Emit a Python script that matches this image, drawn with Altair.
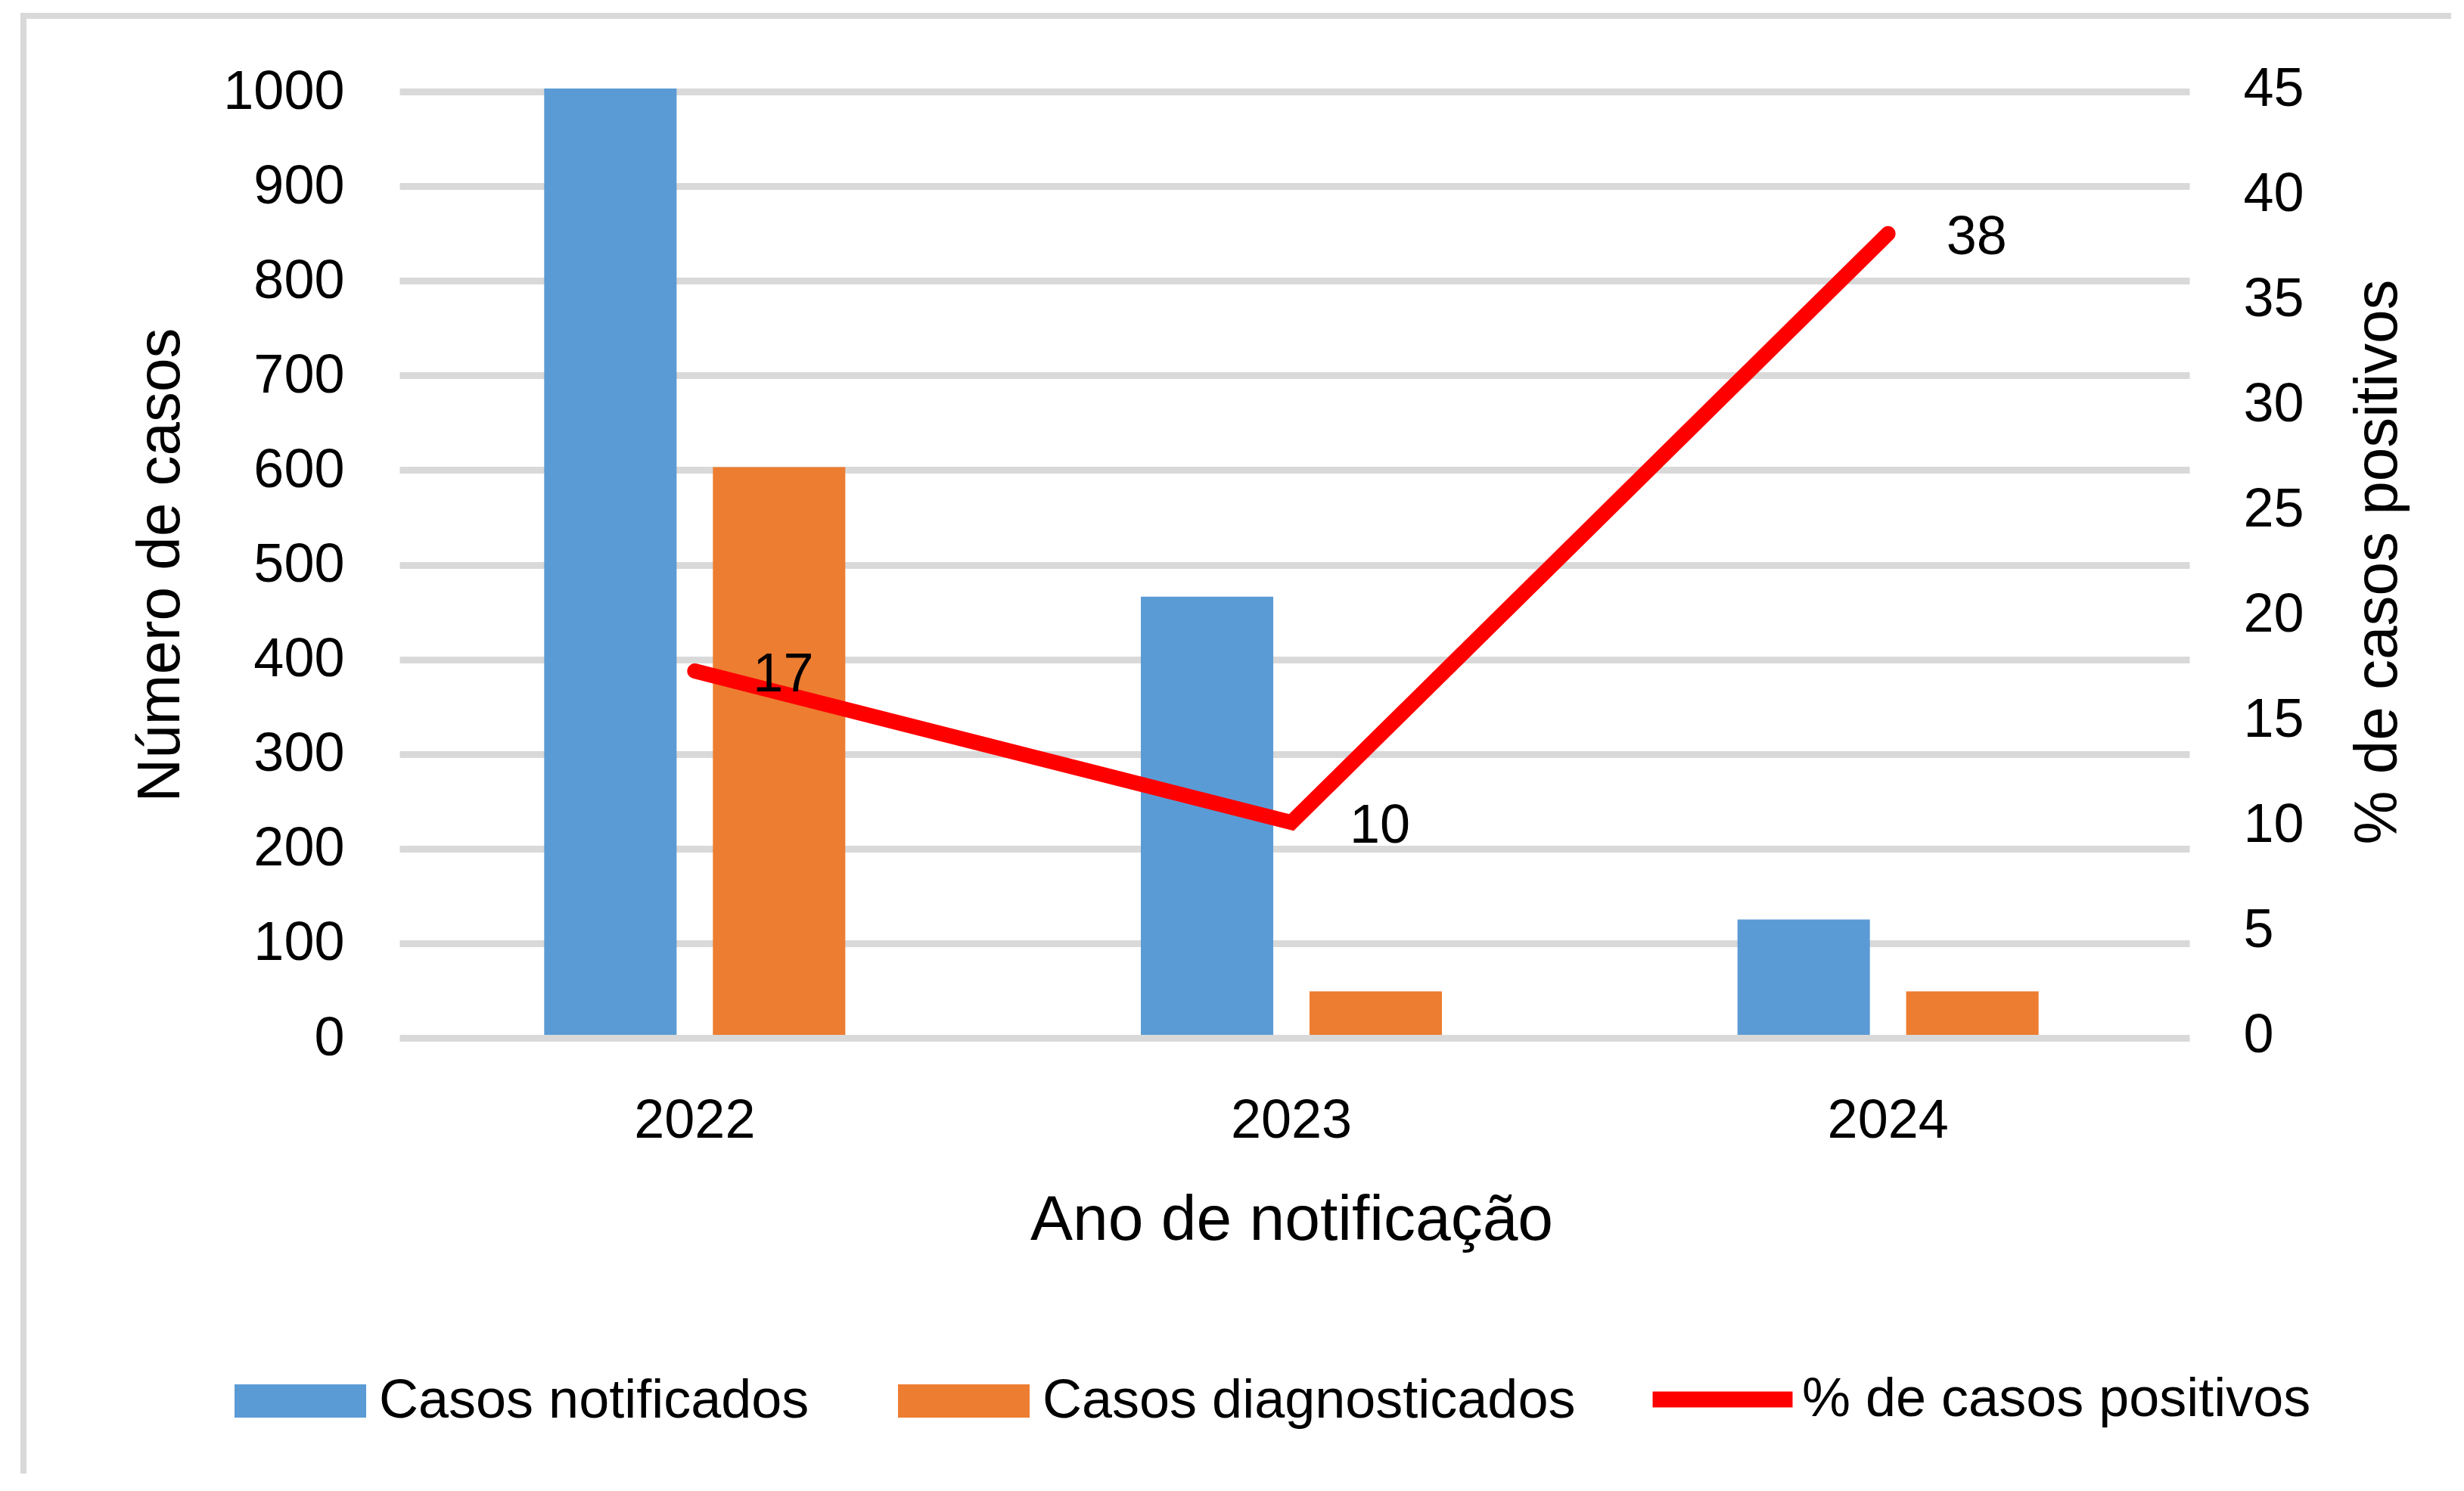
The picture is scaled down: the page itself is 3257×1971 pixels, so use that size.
import altair as alt
import pandas as pd

# ---- data ----
anos = ["2022", "2023", "2024"]
series_barras = ["Casos notificados", "Casos diagnosticados"]
casos_notificados = [1000, 463, 122]
casos_diagnosticados = [600, 46, 46]
serie_linha = "% de casos positivos"
pct_positivos = [17.3, 10.1, 38.1]
rotulos_pct = ["17", "10", "38"]
ticks_casos = list(range(0, 1001, 100))
ticks_pct = list(range(0, 46, 5))

cores_barras = ["#5B9BD5", "#ED7D31"]
cor_linha = "#FF0000"
FONT = "Liberation Sans"

bars_df = pd.DataFrame({
    "ano": anos * 2,
    "serie": [series_barras[0]] * 3 + [series_barras[1]] * 3,
    "valor": casos_notificados + casos_diagnosticados,
})
line_df = pd.DataFrame({
    "ano": anos,
    "pct": pct_positivos,
    "rotulo": rotulos_pct,
    "serie": [serie_linha] * 3,
})
frame_df = pd.DataFrame({"k": [0]})

W, H = 2366, 1251

x_enc = alt.X(
    "ano:N", sort=anos,
    scale=alt.Scale(paddingInner=0, paddingOuter=0),
    axis=alt.Axis(
        title="Ano de notificação", labelAngle=0, labelFont=FONT, labelFontSize=72,
        labelColor="#000000", labelPadding=78, ticks=False, tickSize=0, domain=False,
        grid=False, titleFont=FONT, titleFontSize=84, titleFontWeight="normal",
        titleColor="#000000", titleX=W / 2, titleY=270, titleAlign="center",
        titleBaseline="alphabetic", labelLimit=1000,
    ),
)

frame = alt.Chart(frame_df).mark_rect(
    fill="transparent", stroke="#D9D9D9", strokeWidth=8
).encode(
    x=alt.value(-493), x2=alt.value(3000), y=alt.value(-96), y2=alt.value(1900)
)

bars = alt.Chart(bars_df).mark_bar().encode(
    x=x_enc,
    xOffset=alt.XOffset(
        "serie:N", sort=series_barras,
        scale=alt.Scale(paddingInner=0.215, paddingOuter=0.876),
    ),
    y=alt.Y(
        "valor:Q",
        scale=alt.Scale(domain=[0, 1000], nice=False),
        axis=alt.Axis(
            orient="left", values=ticks_casos, format="d", title="Número de casos",
            labelFont=FONT, labelFontSize=72, labelColor="#000000", labelPadding=73,
            labelLimit=1000,
            ticks=False, tickSize=0, domain=False, grid=True, gridColor="#D9D9D9",
            gridWidth=9, translate=4.5,
            titleFont=FONT, titleFontSize=80, titleFontWeight="normal",
            titleColor="#000000", titleAngle=270, titleX=-292, titleY=H / 2,
            titleAlign="center", titleBaseline="alphabetic",
        ),
    ),
    color=alt.Color(
        "serie:N", sort=series_barras,
        scale=alt.Scale(domain=series_barras, range=cores_barras),
        legend=alt.Legend(
            title=None, orient="none", legendX=-214, legendY=1648,
            direction="horizontal",
            symbolType="M-1,-0.253L1,-0.253L1,0.253L-1,0.253Z",
            symbolSize=30276, symbolStrokeWidth=0, symbolOpacity=1,
            labelFont=FONT, labelFontSize=72, labelColor="#000000",
            labelOffset=17, labelLimit=3000, columnPadding=117, padding=0,
        ),
    ),
)

line = alt.Chart(line_df).mark_line(
    color=cor_linha, strokeWidth=20, strokeCap="round", strokeJoin="miter"
).encode(
    x=x_enc,
    y=alt.Y(
        "pct:Q",
        scale=alt.Scale(domain=[0, 45], nice=False),
        axis=alt.Axis(
            orient="right", values=ticks_pct, format="d", title=serie_linha,
            labelFont=FONT, labelFontSize=72, labelColor="#000000", labelPadding=75,
            labelLimit=1000,
            ticks=False, tickSize=0, domain=False, grid=False,
            titleFont=FONT, titleFontSize=80, titleFontWeight="normal",
            titleColor="#000000", titleAngle=270, titleX=277, titleY=H / 2,
            titleAlign="center", titleBaseline="alphabetic",
        ),
    ),
    stroke=alt.Stroke(
        "serie:N",
        scale=alt.Scale(domain=[serie_linha], range=[cor_linha]),
        legend=alt.Legend(
            title=None, orient="none", legendX=1650, legendY=1630,
            symbolType="stroke", symbolSize=34225, symbolStrokeWidth=21,
            labelFont=FONT, labelFontSize=72, labelColor="#000000",
            labelOffset=2, labelLimit=3000, padding=0,
        ),
    ),
)

text = alt.Chart(line_df).mark_text(
    align="left", baseline="middle", dx=77, dy=5,
    font=FONT, fontSize=72, color="#000000",
).encode(
    x=x_enc,
    y=alt.Y("pct:Q", scale=alt.Scale(domain=[0, 45], nice=False), axis=None),
    text="rotulo:N",
)

chart = alt.layer(frame, bars, line, text).resolve_scale(
    y="independent"
).properties(
    width=W, height=H,
    padding={"left": 516, "top": 109, "right": 350, "bottom": 580},
    autosize=alt.AutoSizeParams(type="none"),
    background="white",
).configure_view(strokeWidth=0)

chart.save("out.html", embed_options={"renderer": "svg", "actions": False})
